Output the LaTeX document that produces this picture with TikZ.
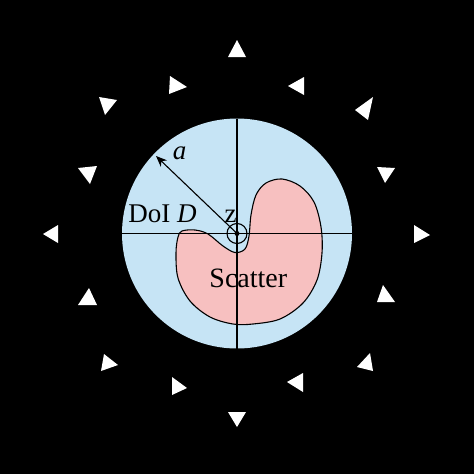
\documentclass[tikz,border=0pt]{standalone}
\usepackage{fontspec}
\setmainfont{Liberation Serif}
\usetikzlibrary{arrows.meta}
\definecolor{doiblue}{RGB}{198,228,245}
\definecolor{scatpink}{RGB}{247,192,192}
\tikzset{
  tri/.style={fill=white},
  axisline/.style={draw=black, line width=1.1pt},
  lbl/.style={font=\fontsize{27}{27}\selectfont, inner sep=0pt, anchor=base, text=black},
}
\begin{document}
\begin{tikzpicture}[x=1pt,y=-1pt]
\fill[black] (0,0) rectangle (474,474);
\useasboundingbox (0,0) rectangle (474,474);
\coordinate (O) at (237,233.5);
\node[circle, fill=doiblue, minimum size=230pt, inner sep=0pt] (D) at (O) {};
% scatterer
\draw[fill=scatpink, line width=1.1pt] plot[smooth cycle, tension=0.55] coordinates {
 (182,231) (195,230) (208,234) (223,246) (235,252.5) (245,249) (249,236)
 (251,215) (256,195) (266,183) (282,179) (300,186) (314,202) (321,227)
 (322,253) (317,280) (303,303) (280,319) (253,324) (233,324) (210,317)
 (190,301) (178,278) (176,253) (178,237)};
% axes
\coordinate (L) at (122,233.5); \coordinate (R) at (352,233.5);
\coordinate (T) at (237,118.5); \coordinate (B) at (237,348.5);
\draw[axisline] (L) -- (R);
\draw[axisline] (T) -- (B);
% origin
\draw[line width=1.1pt] (O) circle[radius=10];
\fill (O) circle[radius=2.5];
% radius arrow
\coordinate (A) at (156,156);
\draw[line width=1.1pt, -{Stealth[length=11pt,width=9pt]}] (O) -- (A);
% labels
\node[lbl] (la) at (179.5,159) {\itshape a};
\node[lbl] (ld) at (162.5,222.7) {DoI \textit{D}};
\node[lbl] (lz) at (230.5,222) {z};
\node[lbl, font=\fontsize{28}{28}\selectfont] (ls) at (248.3,287) {Scatter};
% antennas
\fill[tri] (228,57) -- (246,57) -- (237,40) -- cycle;
\fill[tri] (170,76) -- (187,87) -- (169,94) -- cycle;
\fill[tri] (288,86) -- (304,77) -- (304,95) -- cycle;
\fill[tri] (99,97) -- (117,100) -- (105,115) -- cycle;
\fill[tri] (355,110) -- (373,97) -- (368,120) -- cycle;
\fill[tri] (78,168) -- (97,166) -- (90,184) -- cycle;
\fill[tri] (377,167) -- (395,168) -- (385,183) -- cycle;
\fill[tri] (43,234) -- (58,225) -- (58,243) -- cycle;
\fill[tri] (414,225) -- (414,243) -- (430,235) -- cycle;
\fill[tri] (78,305) -- (97,305) -- (89,288) -- cycle;
\fill[tri] (377,302) -- (395,302) -- (383,285) -- cycle;
\fill[tri] (104,354) -- (118,365) -- (101,371) -- cycle;
\fill[tri] (370,353) -- (373,371) -- (357,367) -- cycle;
\fill[tri] (172,377) -- (172,395) -- (187,388) -- cycle;
\fill[tri] (287,382) -- (303,373) -- (303,392) -- cycle;
\fill[tri] (228,412) -- (246,412) -- (237,427) -- cycle;
\end{tikzpicture}
\end{document}
